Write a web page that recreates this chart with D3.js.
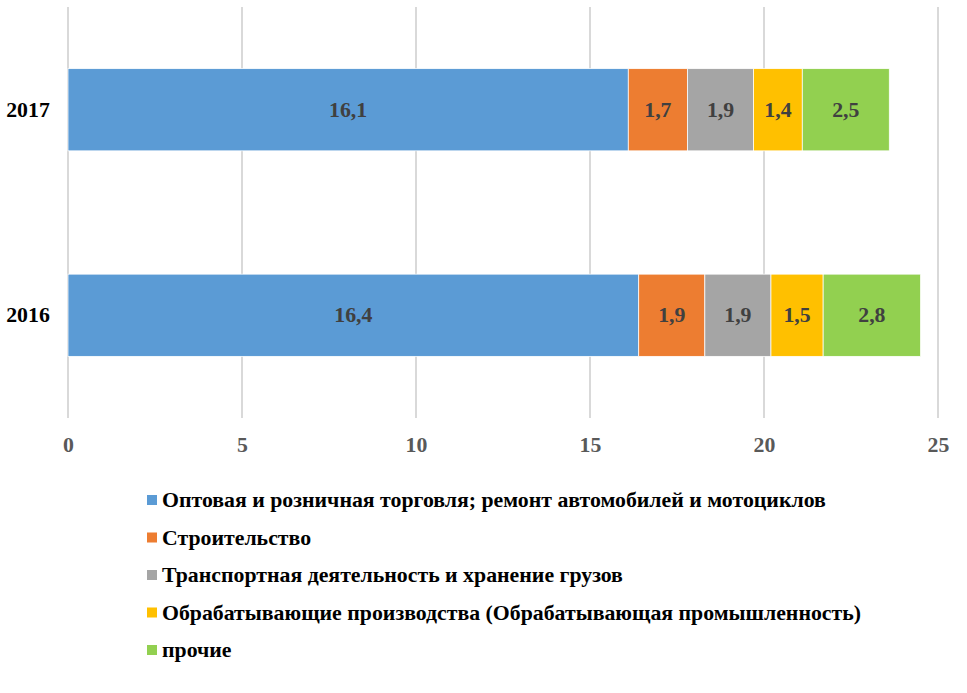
<!DOCTYPE html>
<html><head><meta charset="utf-8">
<script src="https://cdn.jsdelivr.net/npm/d3@7"></script>
<style>body{margin:0;background:#fff}svg{display:block}
svg text{font-family:"Liberation Serif","Times New Roman",Tinos,"DejaVu Serif",serif;font-weight:bold}</style>
</head><body>
<svg id="c" width="967" height="693"></svg>
<script>
const years = ["2017", "2016"];
const seriesNames = [
  "Оптовая и розничная торговля; ремонт автомобилей и мотоциклов",
  "Строительство",
  "Транспортная деятельность и хранение грузов",
  "Обрабатывающие производства (Обрабатывающая промышленность)",
  "прочие"
];
const trade = [16.1, 16.4];
const construction = [1.7, 1.9];
const transport = [1.9, 1.9];
const manufacturing = [1.4, 1.5];
const other = [2.5, 2.8];
const colors = ["#5b9bd5", "#ed7d31", "#a5a5a5", "#ffc000", "#92d050"];
const xTicks = [0, 5, 10, 15, 20, 25];

const seriesValues = [trade, construction, transport, manufacturing, other];
const rows = years.map((y, i) => {
  const o = {year: y};
  seriesNames.forEach((s, j) => o[s] = seriesValues[j][i]);
  return o;
});
const stack = d3.stack().keys(seriesNames)(rows);

const svg = d3.select("#c");
const x = d3.scaleLinear().domain([0, 25]).range([68, 938]);
const y = d3.scaleBand().domain(years).range([7, 418]).paddingInner(0.6).paddingOuter(0.3);
const fs = 21.8;

svg.append("g").selectAll("line").data(xTicks).join("line")
  .attr("x1", d => x(d)).attr("x2", d => x(d))
  .attr("y1", 7).attr("y2", 418)
  .attr("stroke", "#d9d9d9").attr("stroke-width", 2);

const g = svg.append("g");
stack.forEach((layer, j) => {
  g.append("g").selectAll("rect").data(layer).join("rect")
    .attr("x", d => x(d[0])).attr("width", d => x(d[1]) - x(d[0]))
    .attr("y", d => y(d.data.year)).attr("height", y.bandwidth())
    .attr("fill", colors[j]).attr("stroke", "#fff").attr("stroke-width", 0.75);
  g.append("g").selectAll("text").data(layer).join("text")
    .attr("x", d => (x(d[0]) + x(d[1])) / 2)
    .attr("y", d => y(d.data.year) + y.bandwidth() / 2)
    .attr("text-anchor", "middle").attr("dominant-baseline", "central")
    .attr("font-size", fs).attr("fill", "#404040")
    .text(d => d.data[seriesNames[j]].toFixed(1).replace(".", ","));
});

svg.append("g").selectAll("text").data(years).join("text")
  .attr("x", 28).attr("y", d => y(d) + y.bandwidth() / 2)
  .attr("text-anchor", "middle").attr("dominant-baseline", "central")
  .attr("font-size", fs).attr("fill", "#000").text(d => d);

const xa = svg.append("g").attr("transform", "translate(0,433)")
  .call(d3.axisBottom(x).tickValues(xTicks).tickSize(0).tickPadding(0).tickFormat(d3.format("d")));
xa.select(".domain").remove();
xa.selectAll("text").attr("font-size", fs).attr("fill", "#595959").attr("dy", "0.85em");

const leg = svg.append("g");
const ly = d3.scalePoint().domain(seriesNames).range([500, 650]);
seriesNames.forEach((s, j) => {
  leg.append("rect").attr("x", 147).attr("y", ly(s) - 5).attr("width", 10).attr("height", 10).attr("fill", colors[j]);
  leg.append("text").attr("x", 162).attr("y", ly(s)).attr("dominant-baseline", "central")
    .attr("font-size", fs).attr("fill", "#000").text(s);
});
</script>
</body></html>
